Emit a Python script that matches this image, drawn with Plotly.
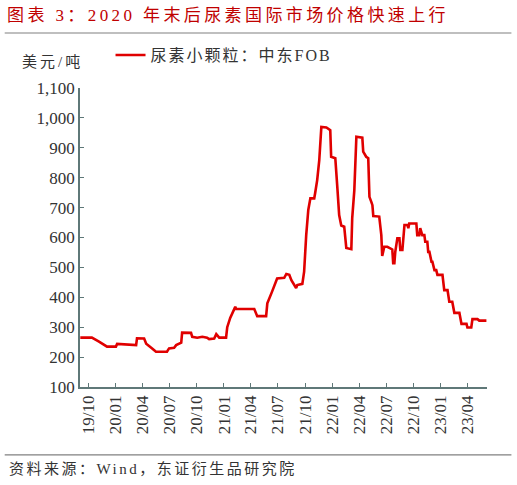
import plotly.graph_objects as go

# 尿素小颗粒：中东FOB，美元/吨
dates = [
    "2019-09-05", "2019-10-14", "2019-11-07", "2019-12-04", "2020-01-03", "2020-01-07",
    "2020-03-11", "2020-03-14", "2020-04-07", "2020-04-14", "2020-05-04", "2020-05-17",
    "2020-06-23", "2020-06-30", "2020-07-17", "2020-07-24", "2020-08-10", "2020-08-13",
    "2020-09-12", "2020-09-16", "2020-10-03", "2020-10-20", "2020-11-05", "2020-11-12",
    "2020-11-29", "2020-12-06", "2020-12-16", "2021-01-08", "2021-01-12", "2021-01-22",
    "2021-02-08", "2021-02-11", "2021-04-13", "2021-04-23", "2021-05-23", "2021-05-27",
    "2021-06-12", "2021-06-29", "2021-07-23", "2021-07-30", "2021-08-09", "2021-08-16",
    "2021-09-01", "2021-09-05", "2021-09-22", "2021-09-28", "2021-10-05", "2021-10-12",
    "2021-10-19", "2021-11-01", "2021-11-04", "2021-11-11", "2021-11-18", "2021-11-25",
    "2021-12-12", "2021-12-25", "2021-12-28", "2022-01-11", "2022-01-18", "2022-01-24",
    "2022-01-31", "2022-02-10", "2022-02-17", "2022-03-06", "2022-03-09", "2022-03-16",
    "2022-03-23", "2022-04-12", "2022-04-15", "2022-04-25", "2022-05-02", "2022-05-06",
    "2022-05-12", "2022-05-16", "2022-05-19", "2022-06-08", "2022-06-15", "2022-06-18",
    "2022-06-25", "2022-07-05", "2022-07-12", "2022-07-22", "2022-07-25", "2022-07-29",
    "2022-08-01", "2022-08-08", "2022-08-15", "2022-08-18", "2022-08-25", "2022-09-01",
    "2022-09-11", "2022-09-14", "2022-09-17", "2022-10-11", "2022-10-14", "2022-10-21",
    "2022-10-24", "2022-10-31", "2022-11-07", "2022-11-10", "2022-11-17", "2022-11-20",
    "2022-11-24", "2022-12-01", "2022-12-04", "2022-12-11", "2022-12-17", "2022-12-21",
    "2023-01-07", "2023-01-13", "2023-01-24", "2023-01-30", "2023-02-09", "2023-02-16",
    "2023-03-05", "2023-03-12", "2023-03-29", "2023-04-01", "2023-04-14", "2023-04-18",
    "2023-05-05", "2023-05-11", "2023-06-04",
]
urea_fob = [
    265, 265, 252, 235, 235, 244,
    240, 263, 262, 245, 229, 218,
    218, 229, 231, 240, 248, 282,
    281, 268, 265, 268, 265, 260,
    262, 277, 265, 265, 300, 331,
    368, 361, 361, 337, 337, 380,
    419, 463, 465, 478, 475, 457,
    431, 441, 445, 486, 608, 692,
    731, 731, 748, 792, 859, 970,
    968, 959, 870, 865, 765, 675,
    640, 636, 565, 561, 665, 757,
    937, 934, 887, 870, 865, 736,
    720, 708, 672, 670, 608, 538,
    569, 569, 565, 560, 514, 514,
    552, 597, 597, 558, 558, 642,
    642, 631, 647, 647, 608, 608,
    631, 608, 608, 586, 586, 552,
    552, 519, 519, 491, 491, 475,
    475, 424, 424, 385, 385, 348,
    348, 311, 311, 299, 299, 327,
    327, 322, 322,
]

title = "图表 3：2020 年末后尿素国际市场价格快速上行"
series_name = "尿素小颗粒：中东FOB"
unit = "美元/吨"
source = "资料来源：Wind，东证衍生品研究院"

serif = "Liberation Serif, Times New Roman, Noto Sans CJK SC, serif"
axis_color = "#5f7878"


def spaced(text, px):
    # 原图中文字间距较宽
    return f"<span style='letter-spacing:{px}px'>{text}</span>"


fig = go.Figure()
fig.add_trace(
    go.Scatter(
        x=dates,
        y=urea_fob,
        mode="lines",
        name=spaced(series_name, 2),
        line={"color": "#e00000", "width": 2.6},
    )
)

fig.update_layout(
    width=517,
    height=485,
    margin={"l": 80, "r": 30, "t": 88, "b": 98},
    paper_bgcolor="white",
    plot_bgcolor="white",
    font={"family": serif, "size": 15, "color": "#333333"},
    showlegend=True,
    legend={
        "x": 0.075,
        "y": 1.11,
        "xanchor": "left",
        "yanchor": "middle",
        "bgcolor": "rgba(0,0,0,0)",
        "font": {"size": 16, "color": "#333333"},
        "itemwidth": 30,
    },
    xaxis={
        "type": "date",
        "range": ["2019-09-04", "2023-06-06"],
        "tick0": "2019-10-01",
        "dtick": "M3",
        "tickformat": "%y/%m",
        "tickangle": -90,
        "ticks": "inside",
        "ticklen": 4,
        "tickcolor": axis_color,
        "showline": True,
        "linecolor": axis_color,
        "linewidth": 1.5,
        "showgrid": False,
        "zeroline": False,
        "tickfont": {"size": 17, "color": "#333333"},
    },
    yaxis={
        "range": [100, 1100],
        "dtick": 100,
        "tickformat": ",d",
        "ticks": "inside",
        "ticklen": 4,
        "tickcolor": axis_color,
        "showline": True,
        "linecolor": axis_color,
        "linewidth": 1.5,
        "showgrid": False,
        "zeroline": False,
        "tickfont": {"size": 17, "color": "#333333"},
    },
)

fig.add_annotation(
    text=spaced(title, 3.4), xref="paper", yref="paper", x=-0.185, y=1.244,
    xanchor="left", yanchor="middle", showarrow=False,
    font={"size": 17, "color": "#c00000", "family": serif},
)
fig.add_annotation(
    text=spaced(unit, 3), xref="paper", yref="paper", x=-0.147, y=1.087,
    xanchor="left", yanchor="middle", showarrow=False,
    font={"size": 15, "color": "#333333", "family": serif},
)
fig.add_annotation(
    text=spaced(source, 2.5), xref="paper", yref="paper", x=-0.18, y=-0.271,
    xanchor="left", yanchor="middle", showarrow=False,
    font={"size": 15, "color": "#333333", "family": serif},
)
fig.add_shape(
    type="line", xref="paper", yref="paper", x0=-0.185, x1=1.06, y0=1.184, y1=1.184,
    line={"color": "#808080", "width": 1.2},
)
fig.add_shape(
    type="line", xref="paper", yref="paper", x0=-0.185, x1=1.06, y0=-0.227, y1=-0.227,
    line={"color": "#808080", "width": 1.2},
)

fig.write_html(
    "out.html",
    config={"displayModeBar": False},
    post_script="document.body.style.margin='0';",
)
